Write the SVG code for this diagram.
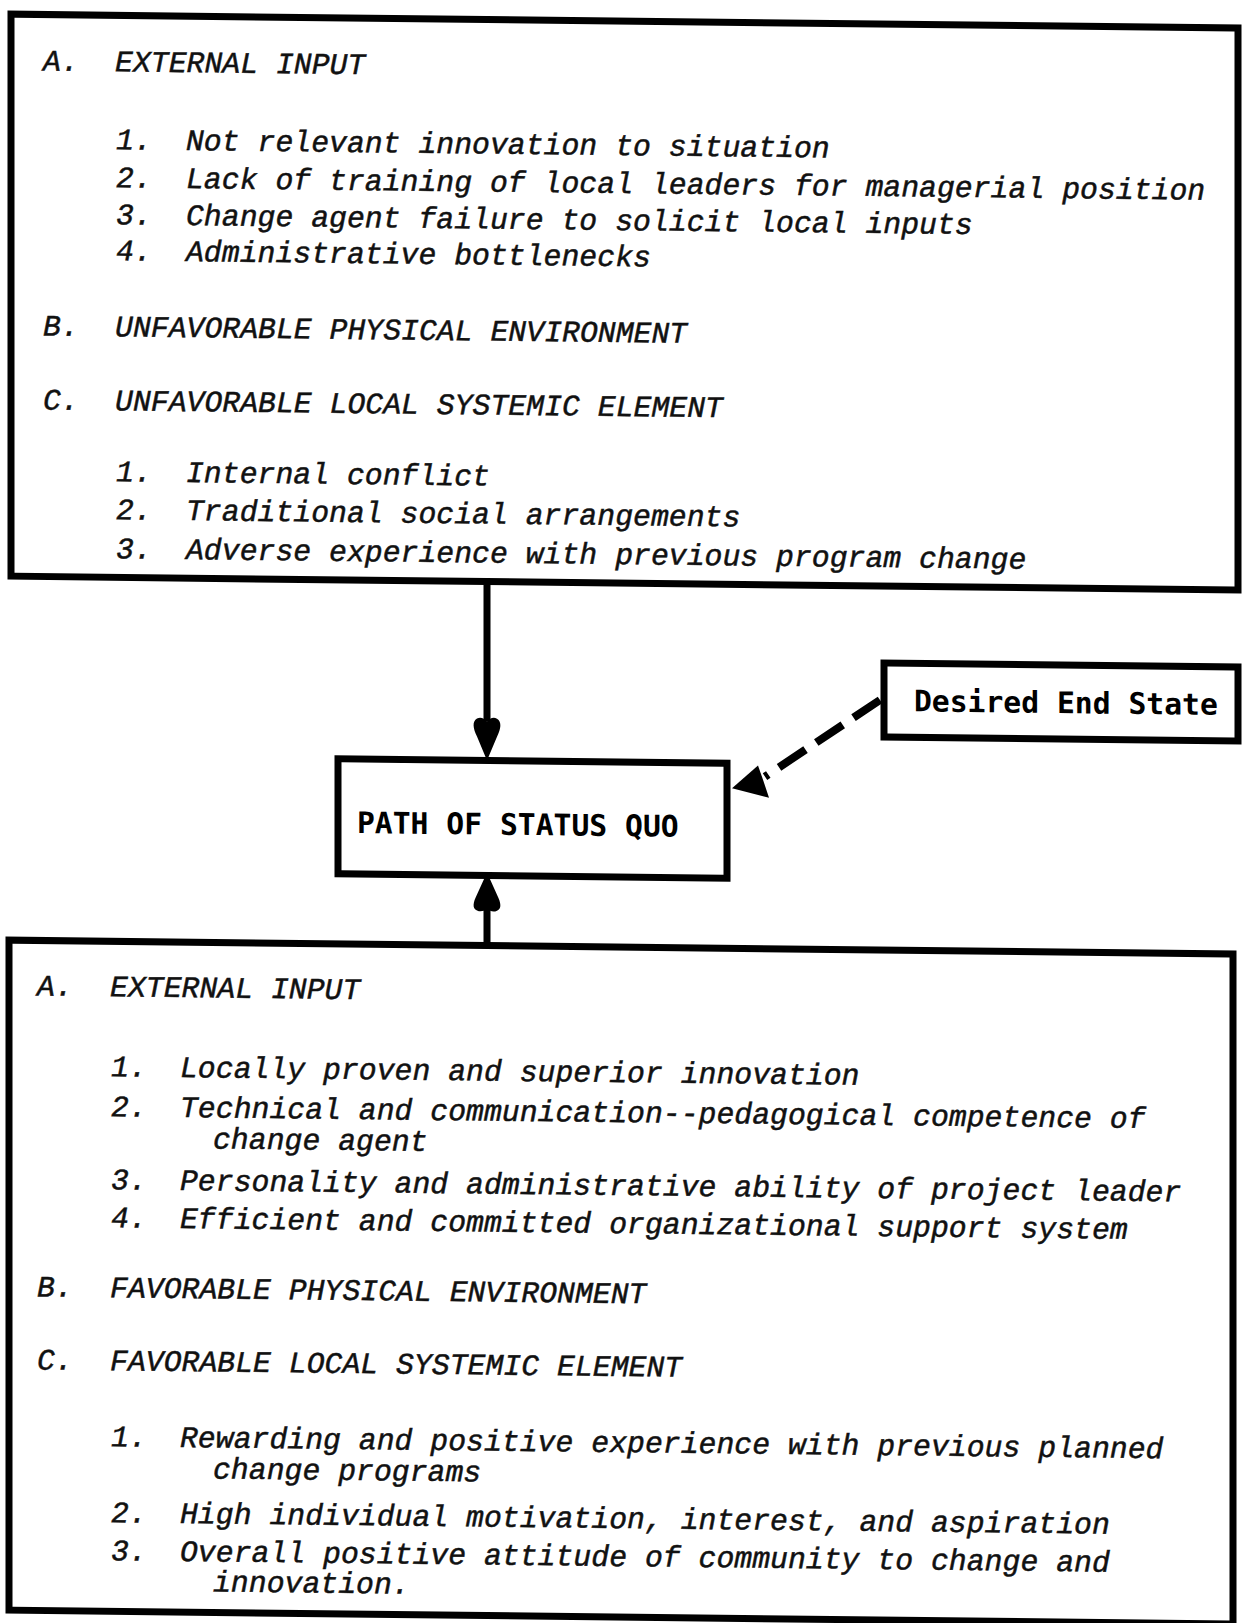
<svg xmlns="http://www.w3.org/2000/svg" width="1244" height="1623" viewBox="0 0 1244 1623">
<style>
.box{fill:none;stroke:#000;stroke-width:7}
.t{font-family:"Liberation Mono","Courier New",monospace;font-style:italic;font-size:29.8px;fill:#111;stroke:#111;stroke-width:0.5}
.b{font-family:"DejaVu Sans Mono","Liberation Mono",monospace;font-weight:bold;font-size:29.7px;fill:#000}
.conn{stroke:#000;stroke-width:7;fill:none}
.dash{stroke:#000;stroke-width:8;fill:none;stroke-dasharray:32 13}
.head{fill:#000;stroke:none}
</style>
<rect width="1244" height="1623" fill="#fff"/>
<g transform="skewY(0.65)">
 <g id="unfavorable-factors">
  <rect class="box" x="11" y="14" width="1227" height="562"/>
  <text class="t" x="43" y="70">A.</text><text class="t" x="115" y="70">EXTERNAL INPUT</text>
  <text class="t" x="116" y="148">1.</text><text class="t" x="186" y="148">Not relevant innovation to situation</text>
  <text class="t" x="116" y="186">2.</text><text class="t" x="186" y="186">Lack of training of local leaders for managerial position</text>
  <text class="t" x="116" y="223">3.</text><text class="t" x="186" y="223">Change agent failure to solicit local inputs</text>
  <text class="t" x="116" y="259">4.</text><text class="t" x="186" y="259">Administrative bottlenecks</text>
  <text class="t" x="43" y="335">B.</text><text class="t" x="115" y="335">UNFAVORABLE PHYSICAL ENVIRONMENT</text>
  <text class="t" x="43" y="409">C.</text><text class="t" x="115" y="409">UNFAVORABLE LOCAL SYSTEMIC ELEMENT</text>
  <text class="t" x="116" y="480">1.</text><text class="t" x="186" y="480">Internal conflict</text>
  <text class="t" x="116" y="518">2.</text><text class="t" x="186" y="518">Traditional social arrangements</text>
  <text class="t" x="116" y="557">3.</text><text class="t" x="186" y="557">Adverse experience with previous program change</text>
 </g>
 <g id="path-of-status-quo">
  <rect class="box" x="338" y="755" width="389" height="115"/>
  <text class="b" x="357" y="829">PATH OF STATUS QUO</text>
 </g>
 <g id="desired-end-state">
  <rect class="box" x="884" y="653" width="354" height="74"/>
  <text class="b" x="914" y="701">Desired End State</text>
 </g>
 <g id="favorable-factors">
  <rect class="box" x="9" y="940" width="1224" height="670"/>
  <text class="t" x="37" y="995">A.</text><text class="t" x="110" y="995">EXTERNAL INPUT</text>
  <text class="t" x="111" y="1075">1.</text><text class="t" x="180" y="1075">Locally proven and superior innovation</text>
  <text class="t" x="111" y="1115">2.</text><text class="t" x="180" y="1115">Technical and communication--pedagogical competence of</text>
  <text class="t" x="213" y="1146">change agent</text>
  <text class="t" x="111" y="1188">3.</text><text class="t" x="180" y="1188">Personality and administrative ability of project leader</text>
  <text class="t" x="111" y="1226">4.</text><text class="t" x="180" y="1226">Efficient and committed organizational support system</text>
  <text class="t" x="37" y="1296">B.</text><text class="t" x="110" y="1296">FAVORABLE PHYSICAL ENVIRONMENT</text>
  <text class="t" x="37" y="1369">C.</text><text class="t" x="110" y="1369">FAVORABLE LOCAL SYSTEMIC ELEMENT</text>
  <text class="t" x="111" y="1445">1.</text><text class="t" x="180" y="1445">Rewarding and positive experience with previous planned</text>
  <text class="t" x="213" y="1476">change programs</text>
  <text class="t" x="111" y="1521">2.</text><text class="t" x="180" y="1521">High individual motivation, interest, and aspiration</text>
  <text class="t" x="111" y="1559">3.</text><text class="t" x="180" y="1559">Overall positive attitude of community to change and</text>
  <text class="t" x="213" y="1589">innovation.</text>
 </g>
 <g id="connectors">
  <line class="conn" x1="487" y1="579" x2="487" y2="716"/>
  <path class="head" d="M487,755 L477,731 C473,723 472,716 477,713 C481,711 484,713 487,716 C490,713 493,711 497,713 C502,716 501,723 497,731 Z"/>
  <line class="conn" x1="487" y1="900" x2="487" y2="941"/>
  <path class="head" d="M487,867 L477,889 C473,897 472,903 477,905 C481,907 484,905 487,904 C490,905 493,907 497,905 C502,903 501,897 497,889 Z"/>
  <path class="dash" d="M880,690 L765,768"/>
  <path class="head" d="M732,780 L758,757 L763,771 L769,789 Z"/>
 </g>
</g>
</svg>
